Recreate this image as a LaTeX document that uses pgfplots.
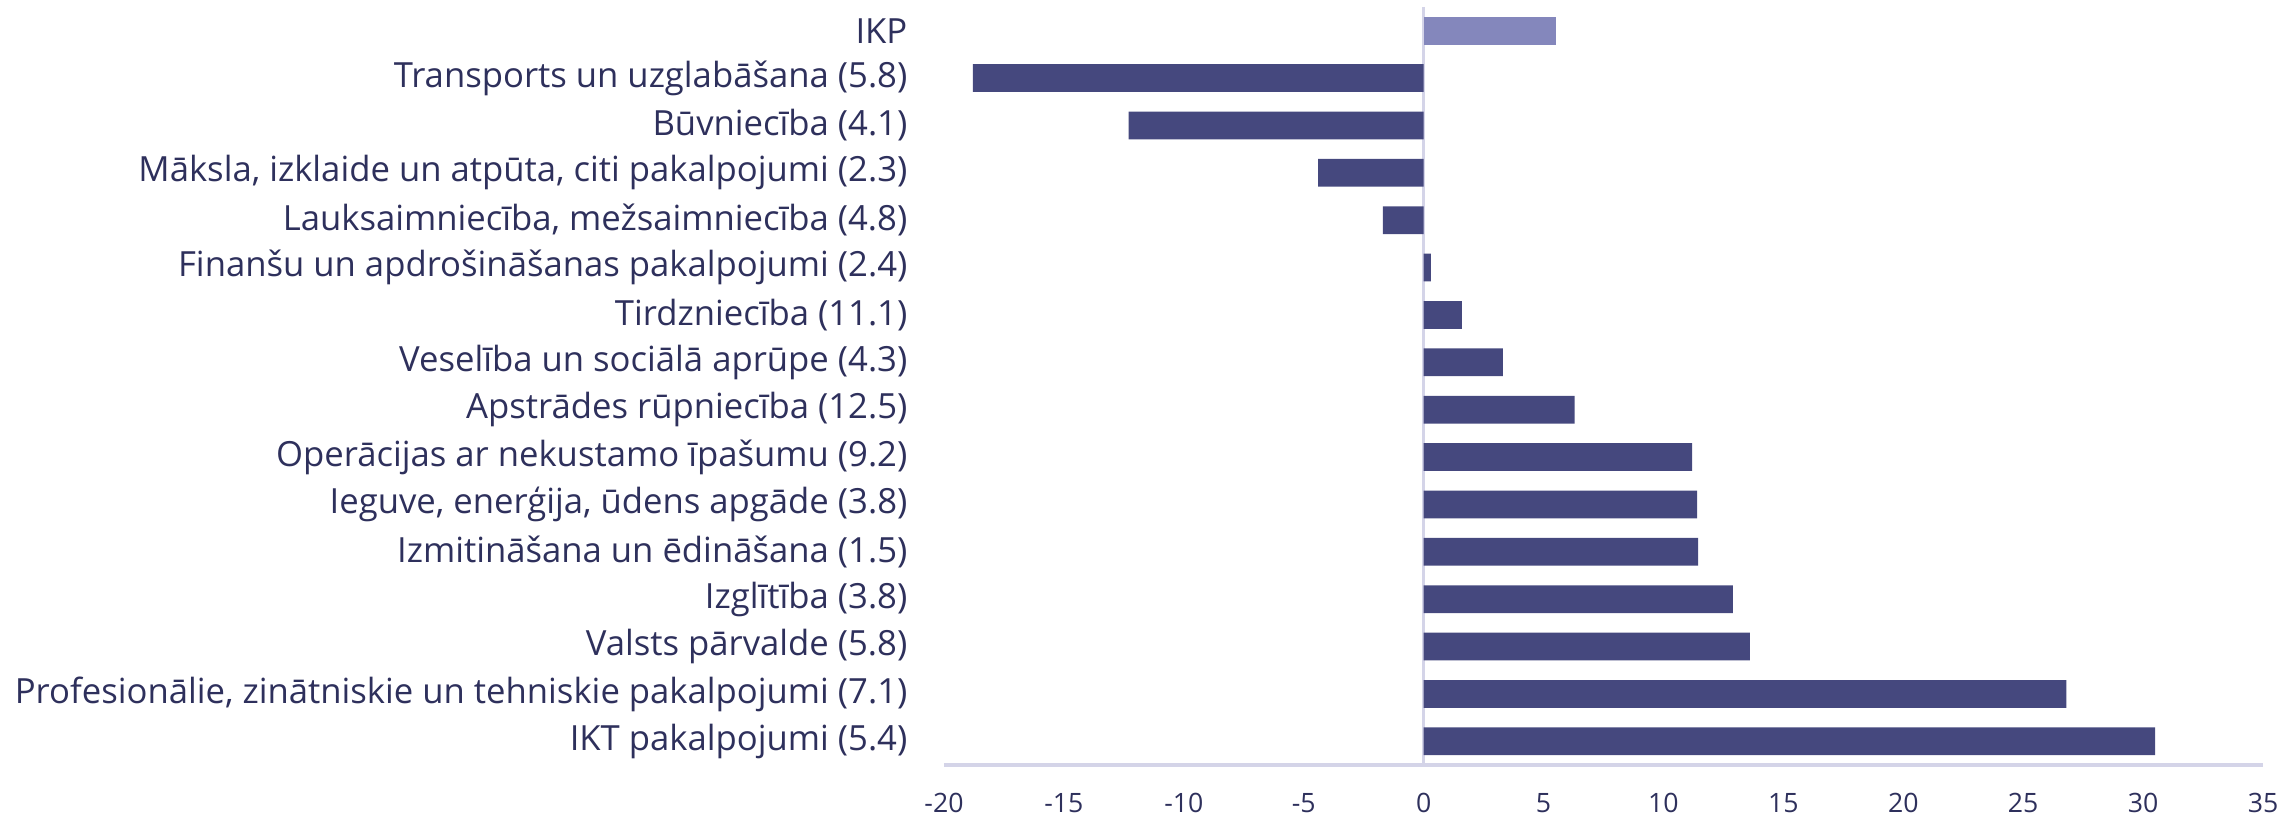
\documentclass[border=0pt]{standalone}
\usepackage{pgfplots}
\pgfplotsset{compat=1.18}
\usepackage{fontspec}
\setmainfont{Open Sans}
\definecolor{barc}{RGB}{69,72,126}
\definecolor{ikpc}{RGB}{132,135,188}
\definecolor{txtc}{RGB}{46,48,92}
\definecolor{axc}{RGB}{212,212,232}
\begin{document}
\begin{tikzpicture}
\path[use as bounding box] (-283.2pt,-15.9pt) rectangle (402.3pt,229.5pt);
\begin{axis}[
  at={(0,0)}, anchor=south west,
  scale only axis,
  width=395.7pt, height=227.4pt,
  xbar, bar width=8.3pt, bar shift=0pt,
  xmin=-20, xmax=35,
  ymin=-0.5, ymax=15.5,
  y dir=reverse,
  xtick={-20,-15,...,35},
  ytick={0,...,15},
  yticklabels={IKP,
    {Transports un uzglabāšana (5.8)},
    {Būvniecība (4.1)},
    {Māksla, izklaide un atpūta, citi pakalpojumi (2.3)},
    {Lauksaimniecība, mežsaimniecība (4.8)},
    {Finanšu un apdrošināšanas pakalpojumi (2.4)},
    {Tirdzniecība (11.1)},
    {Veselība un sociālā aprūpe (4.3)},
    {Apstrādes rūpniecība (12.5)},
    {Operācijas ar nekustamo īpašumu (9.2)},
    {Ieguve, enerģija, ūdens apgāde (3.8)},
    {Izmitināšana un ēdināšana (1.5)},
    {Izglītība (3.8)},
    {Valsts pārvalde (5.8)},
    {Profesionālie, zinātniskie un tehniskie pakalpojumi (7.1)},
    {IKT pakalpojumi (5.4)}},
  axis x line*=bottom, axis y line*=left,
  x axis line style={draw=axc, line width=1pt},
  y axis line style={draw=none},
  major tick length=0pt,
  tick style={draw=none},
  extra x ticks={0}, extra x tick labels={},
  extra x tick style={grid=major, major grid style={draw=axc, line width=1pt}},
  /pgf/number format/assume math mode=true,
  xticklabel style={font=\fontsize{8}{9}\selectfont, text=txtc, anchor=center, inner sep=0pt, yshift=-11.5pt},
  yticklabel style={font=\fontsize{10.4}{12}\selectfont, text=txtc, anchor=east, inner sep=0pt, xshift=-10.8pt},
  clip=false,
]
\addplot[fill=ikpc, draw=none] coordinates {(5.5,0)};
\addplot[fill=barc, draw=none] coordinates {
(-18.8,1) (-12.3,2) (-4.4,3) (-1.7,4) (0.3,5) (1.6,6) (3.3,7) (6.3,8)
(11.2,9) (11.4,10) (11.45,11) (12.9,12) (13.6,13) (26.8,14) (30.5,15)};
\end{axis}
\end{tikzpicture}
\end{document}
